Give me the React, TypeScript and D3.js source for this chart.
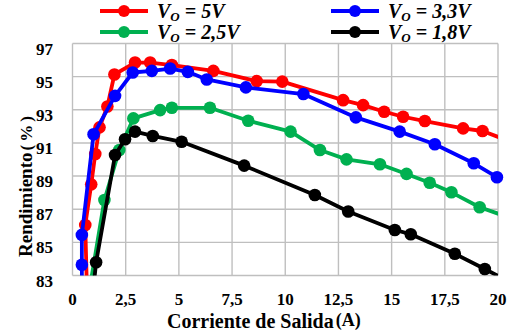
import React from 'react';
import * as d3 from 'd3';

// corriente de salida (A) y rendimiento (%) de cada serie
const x5 = [0.72, 0.6, 0.88, 1.07, 1.27, 1.64, 1.97, 2.94, 3.65, 4.67, 6.62, 8.66, 9.86, 12.72, 13.66, 14.65, 15.54, 16.56, 18.36, 19.27, 20.5];
const y5 = [80, 86.05, 88.5, 90.33, 91.94, 93.2, 95.13, 95.85, 95.85, 95.7, 95.35, 94.73, 94.7, 93.58, 93.28, 92.88, 92.58, 92.32, 91.88, 91.72, 91.12];

const x33 = [0.45, 0.44, 0.44, 0.99, 2.0, 2.83, 3.73, 4.59, 5.42, 6.31, 8.15, 10.85, 13.32, 15.38, 17.03, 18.86, 19.95];
const y33 = [80, 83.65, 85.45, 91.52, 93.84, 95.25, 95.35, 95.49, 95.29, 94.83, 94.35, 93.95, 92.54, 91.68, 90.92, 89.77, 88.93];

const x25 = [0.52, 1.5, 2.2, 2.86, 4.12, 4.67, 6.46, 8.26, 10.25, 11.63, 12.88, 14.45, 15.7, 16.79, 17.81, 19.14, 20.5];
const y25 = [80, 87.56, 90.57, 92.48, 92.98, 93.12, 93.12, 92.34, 91.68, 90.57, 90.01, 89.71, 89.13, 88.6, 88.02, 87.12, 86.51];

const x18 = [0.8, 1.11, 2.0, 2.47, 2.94, 3.77, 5.13, 8.07, 11.39, 12.96, 15.15, 15.9, 17.97, 19.38, 20.5];
const y18 = [80, 83.8, 90.27, 91.22, 91.68, 91.42, 91.07, 89.63, 87.86, 86.86, 85.75, 85.49, 84.31, 83.39, 82.65];

const seriesNames = ['5V', '3,3V', '2,5V', '1,8V'];
const seriesColors = ['#ff0000', '#0000ff', '#00b050', '#000000'];
const seriesX = [x5, x33, x25, x18];
const seriesY = [y5, y33, y25, y18];

const xTicks = [0, 2.5, 5, 7.5, 10, 12.5, 15, 17.5, 20];
const xTickLabels = ['0', '2,5', '5', '7,5', '10', '12,5', '15', '17,5', '20'];
const yTicks = [83, 85, 87, 89, 91, 93, 95, 97];

const W = 515;
const H = 336;
const m = { left: 72.5, right: 17, top: 43.5, bottom: 60.5 };
const FONT = 'Liberation Serif';

export default function App() {
  const x = d3.scaleLinear().domain([0, 20]).range([m.left, W - m.right]);
  const y = d3.scaleLinear().domain([83, 97]).range([H - m.bottom, m.top]);

  const lineGen = d3.line<[number, number]>()
    .x(d => x(d[0]))
    .y(d => y(d[1]));

  const series = seriesNames.map((name, i) => ({
    name,
    color: seriesColors[i],
    pts: seriesX[i].map((v, j) => [v, seriesY[i][j]] as [number, number]),
  }));

  const legendPos = [
    { lx: 100, ly: 11 },
    { lx: 331, ly: 11 },
    { lx: 100, ly: 32 },
    { lx: 331, ly: 32 },
  ];

  const tickStyle = { fontFamily: FONT, fontWeight: 'bold', fontSize: 17 };

  return (
    <div style={{ position: 'absolute', left: 0, top: 0 }}>
      <svg width={W} height={H} style={{ display: 'block', background: '#fff' }}>
        <defs>
          <clipPath id="plot">
            <rect x={m.left} y={m.top} width={W - m.left - m.right} height={H - m.top - m.bottom} />
          </clipPath>
        </defs>

        {/* rejilla */}
        <g stroke="#bfbfbf" strokeWidth={1.4}>
          {xTicks.map(t => (
            <line key={'gx' + t} x1={x(t)} x2={x(t)} y1={y(97)} y2={y(83)} />
          ))}
          {yTicks.map(t => (
            <line key={'gy' + t} x1={x(0)} x2={x(20)} y1={y(t)} y2={y(t)} />
          ))}
        </g>

        {/* etiquetas de ejes */}
        {yTicks.map(t => (
          <text key={'ty' + t} x={53} y={y(t) + 11} textAnchor="end" style={tickStyle}>{t}</text>
        ))}
        {xTicks.map((t, i) => (
          <text key={'tx' + t} x={x(t)} y={305} textAnchor="middle" style={tickStyle}>{xTickLabels[i]}</text>
        ))}

        <text x={167} y={328} style={{ fontFamily: FONT, fontWeight: 'bold', fontSize: 20 }}>
          Corriente de Salida<tspan style={{ fontSize: 18 }} dy={-2} dx={2}>(A)</tspan>
        </text>
        <text transform="translate(32,257) rotate(-90)" style={{ fontFamily: FONT, fontWeight: 'bold', fontSize: 19 }}>
          Rendimiento<tspan style={{ fontSize: 17, letterSpacing: 3 }} dx={2}>(%)</tspan>
        </text>

        {/* series */}
        {series.map(s => (
          <g key={s.name}>
            <path d={lineGen(s.pts) || ''} fill="none" stroke={s.color} strokeWidth={3.8}
              strokeLinejoin="round" clipPath="url(#plot)" />
            {s.pts.filter(p => p[0] >= 0 && p[0] <= 20 && p[1] >= 83 && p[1] <= 97).map((p, j) => (
              <circle key={j} cx={x(p[0])} cy={y(p[1])} r={6.3} fill={s.color} />
            ))}
          </g>
        ))}

        {/* leyenda */}
        {series.map((s, i) => {
          const { lx, ly } = legendPos[i];
          return (
            <g key={'lg' + s.name}>
              <line x1={lx} x2={lx + 48} y1={ly} y2={ly} stroke={s.color} strokeWidth={4} />
              <circle cx={lx + 24} cy={ly} r={6} fill={s.color} />
              <text x={lx + 57} y={ly + 7} style={{ fontFamily: FONT, fontWeight: 'bold', fontStyle: 'italic', fontSize: 20 }}>
                V<tspan style={{ fontSize: 13 }} dy={3}>O</tspan><tspan dy={-3}>{' = ' + s.name}</tspan>
              </text>
            </g>
          );
        })}
      </svg>
    </div>
  );
}
